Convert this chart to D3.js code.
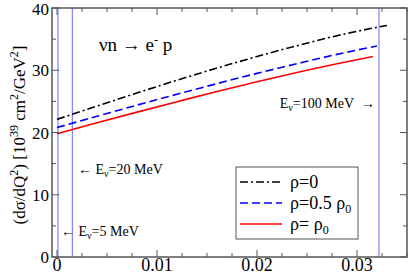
<!DOCTYPE html>
<html><head><meta charset="utf-8">
<script src="https://cdn.jsdelivr.net/npm/d3@7"></script>
<style>body{margin:0;background:#fff}svg{display:block}</style>
</head><body><svg id="c" width="408" height="274"></svg>
<script>
const q2 = [0, 0.004, 0.008, 0.012, 0.016, 0.020, 0.024, 0.028, 0.032];
const rho0 = [22.1, 24.25, 26.35, 28.4, 30.35, 32.2, 33.95, 35.55, 36.9];
const rhoHalf = [20.8, 22.6, 24.4, 26.15, 27.85, 29.5, 31.05, 32.55, 33.9];
const rhoFull = [19.8, 21.55, 23.27, 24.95, 26.6, 28.15, 29.65, 31.05, 32.2];
const q2Black = q2.concat([0.033]);
const rho0Ext = rho0.concat([37.2]);
const q2Red = [0, 0.004, 0.008, 0.012, 0.016, 0.020, 0.024, 0.028, 0.0316];
const xTicks = [0, 0.01, 0.02, 0.03];
const yTicks = [0, 10, 20, 30, 40];
const eLines = [0.0001, 0.00153, 0.0322];

const cv = document.createElement("canvas").getContext("2d");
function w(f) { cv.font = "20px " + f; return cv.measureText("0.01 MeV ρ=0.5 abcdefgWQ").width; }
const mono = w("monospace");
const cands = ["'Liberation Serif'", "'Times New Roman'", "Times", "'DejaVu Serif'", "'Noto Serif'"];
let FONT = "serif";
for (const c of cands) { if (Math.abs(w(c + ", monospace") - mono) > 0.5) { FONT = c; break; } }

const svg = d3.select("#c").attr("font-family", FONT + ", serif");
const x = d3.scaleLinear().domain([-0.0005, 0.035]).range([52, 407]);
const y = d3.scaleLinear().domain([0, 40]).range([257, 8]);
const frame = "#555";

svg.selectAll("line.e").data(eLines).enter().append("line")
  .attr("x1", d => x(d)).attr("x2", d => x(d)).attr("y1", y(0)).attr("y2", y(40))
  .attr("stroke", "#6a6aff").attr("stroke-width", 1);

const line = d3.line().x(d => x(d[0])).y(d => y(d[1])).curve(d3.curveMonotoneX);
const series = [
  {xs: q2Black, ys: rho0Ext, color: "#000", dash: "8,3,2,3"},
  {xs: q2, ys: rhoHalf, color: "#0000ff", dash: "8,4"},
  {xs: q2Red, ys: rhoFull, color: "#ff0000", dash: null}
];
series.forEach(s => {
  svg.append("path").datum(s.xs.map((v, i) => [v, s.ys[i]]))
    .attr("d", line).attr("fill", "none").attr("stroke", s.color)
    .attr("stroke-width", 1.6).attr("stroke-dasharray", s.dash);
});

const xMinor = d3.range(0, 0.0351, 0.0025);
const yMinor = d3.range(0, 40.1, 5);
const g = svg.append("g");
xMinor.forEach(v => {
  const major = xTicks.some(t => Math.abs(t - v) < 1e-9);
  const L = major ? 7 : 4;
  g.append("line").attr("x1", x(v)).attr("x2", x(v)).attr("y1", y(0)).attr("y2", y(0) - L).attr("stroke", frame);
  g.append("line").attr("x1", x(v)).attr("x2", x(v)).attr("y1", y(40)).attr("y2", y(40) + L).attr("stroke", frame);
});
yMinor.forEach(v => {
  const major = yTicks.includes(v);
  const L = major ? 7 : 4;
  g.append("line").attr("x1", x.range()[0]).attr("x2", x.range()[0] + L).attr("y1", y(v)).attr("y2", y(v)).attr("stroke", frame);
  g.append("line").attr("x1", x.range()[1]).attr("x2", x.range()[1] - L).attr("y1", y(v)).attr("y2", y(v)).attr("stroke", frame);
});
svg.append("rect").attr("x", 52).attr("y", 8).attr("width", 355).attr("height", 249)
  .attr("fill", "none").attr("stroke", frame).attr("stroke-width", 1.5);

svg.selectAll("text.xt").data(xTicks).enter().append("text")
  .attr("x", d => x(d)).attr("y", 271).attr("text-anchor", "middle")
  .attr("font-size", 18).text(d => d === 0 ? "0" : d.toFixed(2));
svg.selectAll("text.yt").data(yTicks).enter().append("text")
  .attr("x", 49).attr("y", d => Math.max(y(d) + 6, 15)).attr("text-anchor", "end")
  .attr("font-size", 17).text(d => d);

const yt = svg.append("text").attr("transform", "translate(25,135) rotate(-90)")
  .attr("text-anchor", "middle").attr("font-size", 17);
yt.append("tspan").text("(dσ/dQ");
yt.append("tspan").attr("dy", -7).attr("font-size", 12).text("2");
yt.append("tspan").attr("dy", 7).text(") [10");
yt.append("tspan").attr("dy", -7).attr("font-size", 12).text("39");
yt.append("tspan").attr("dy", 7).text(" cm");
yt.append("tspan").attr("dy", -7).attr("font-size", 12).text("2");
yt.append("tspan").attr("dy", 7).text("/GeV");
yt.append("tspan").attr("dy", -7).attr("font-size", 12).text("2");
yt.append("tspan").attr("dy", 7).text("]");

const rl = svg.append("text").attr("x", 99).attr("y", 51).attr("font-size", 19);
rl.append("tspan").text("νn → e");
rl.append("tspan").attr("dy", -7).attr("font-size", 12).text("-");
rl.append("tspan").attr("dy", 7).text(" p");

function elabel(xp, yp, pre, val, anchor) {
  const t = svg.append("text").attr("x", xp).attr("y", yp).attr("font-size", 14)
    .attr("text-anchor", anchor || "start");
  t.append("tspan").text(pre + "E");
  t.append("tspan").attr("dy", 3).attr("font-size", 10).text("ν");
  t.append("tspan").attr("dy", -3).text("=" + val);
}
elabel(61, 236, "← ", "5 MeV");
elabel(78, 174, "← ", "20 MeV");
elabel(354, 108, "", "100 MeV", "end");
svg.append("text").attr("x", 375).attr("y", 108).attr("text-anchor", "end").attr("font-size", 14).text("→");

svg.append("rect").attr("x", 236).attr("y", 167).attr("width", 122).attr("height", 72)
  .attr("fill", "#fff").attr("stroke", frame).attr("stroke-width", 1);
const legY = [182, 203, 224];
series.forEach((s, i) => {
  svg.append("line").attr("x1", 240).attr("x2", 282).attr("y1", legY[i]).attr("y2", legY[i])
    .attr("stroke", s.color).attr("stroke-width", 1.6).attr("stroke-dasharray", s.dash);
});
const lt = [["ρ=0"], ["ρ=0.5  ρ", "0"], ["ρ= ρ", "0"]];
lt.forEach((l, i) => {
  const t = svg.append("text").attr("x", 290).attr("y", legY[i] + 6).attr("font-size", 18);
  t.append("tspan").text(l[0]);
  if (l[1]) t.append("tspan").attr("dy", 4).attr("font-size", 12).text(l[1]);
});
</script></body></html>
